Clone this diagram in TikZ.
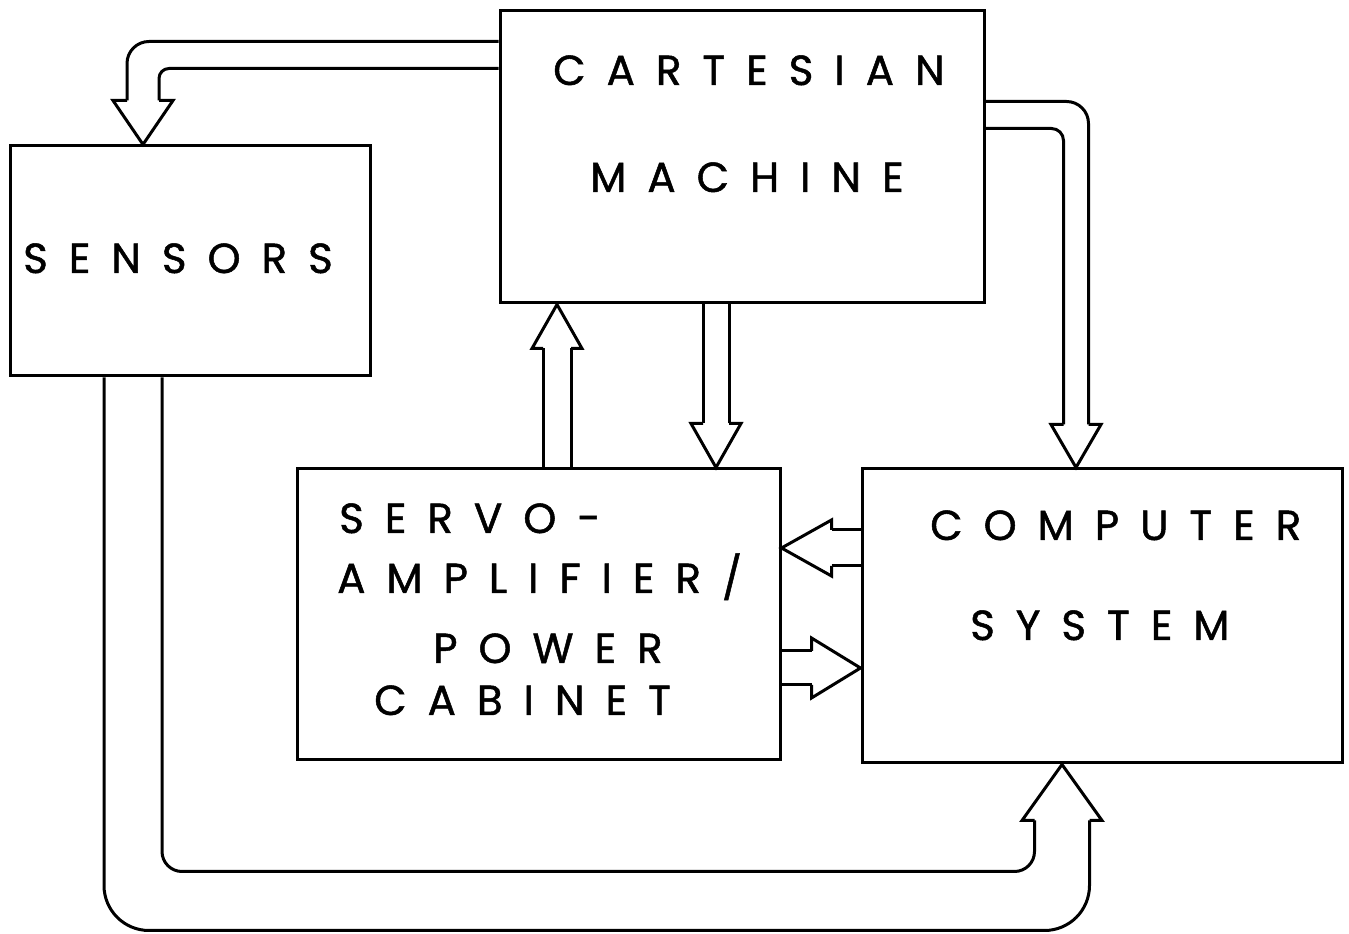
\documentclass[tikz,border=0pt]{standalone}
\usepackage{fontspec}
\setmainfont{Poppins}
\usetikzlibrary{calc}
\tikzset{
  box/.style={draw,line width=3pt,inner sep=0pt},
  pipe/.style={line width=3pt},
  lbl/.style={anchor=base west,inner sep=0pt,font=\fontsize{42}{48}\selectfont\addfontfeature{LetterSpace=50,FakeBold=1.2}},
}
% open arrow head: tip, angle, half shaft, half head, head length
\newcommand{\hollowhead}[5]{%
  \draw[pipe,shift={(#1)},rotate=#2] (-#3,-#5) -- (-#4,-#5) -- (0,0) -- (#4,-#5) -- (#3,-#5);}

\begin{document}
\begin{tikzpicture}[x=1pt,y=1pt]
  \useasboundingbox (0,0) rectangle (1349,934);
  % blocks
  \node[box,minimum width=484,minimum height=292] (cart) at (742,777) {};
  \node[box,minimum width=360,minimum height=230] (sens) at (190,673) {};
  \node[box,minimum width=483,minimum height=291] (servo) at (538.5,319.5) {};
  \node[box,minimum width=480,minimum height=294] (comp) at (1102,318) {};
  % labels
  \node[lbl] (cartA) at (553,849) {CARTESIAN};
  \node[lbl] (cartB) at (590,742) {MACHINE};
  \node[lbl] (sensA) at (23,661) {SENSORS};
  \node[lbl] (servoA) at (339,401) {SERVO-};
  \node[lbl] (servoB) at (337,341) {AMPLIFIER/};
  \node[lbl] (servoC) at (433,271) {POWER};
  \node[lbl] (servoD) at (374,219) {CABINET};
  \node[lbl] (compA) at (930,394) {COMPUTER};
  \node[lbl] (compB) at (970,294) {SYSTEM};
  % arrow tips
  \coordinate (tipA) at ($(sens.north)+(-47,0)$);
  \coordinate (tipB) at ($(comp.north)+(-26,0)$);
  \coordinate (tipC) at ($(cart.south)+(-185,0)$);
  \coordinate (tipD) at ($(servo.north)+(177.5,0)$);
  \coordinate (tipE) at ($(servo.east)+(0,66.5)$);
  \coordinate (tipF) at ($(comp.west)+(0,-52)$);
  \coordinate (tipG) at ($(comp.south)+(-40,0)$);
  % cartesian -> sensors
  \draw[pipe,rounded corners=22] ($(cart.north west)+(0,-32)$) -| ($(tipA)+(-16,44)$);
  \draw[pipe,rounded corners=10] ($(cart.north west)+(0,-59)$) -| ($(tipA)+(16,44)$);
  \hollowhead{tipA}{180}{16}{30}{44}
  % cartesian -> computer
  \draw[pipe,rounded corners=22] ($(cart.north east)+(0,-92)$) -| ($(tipB)+(12.5,43)$);
  \draw[pipe,rounded corners=12] ($(cart.north east)+(0,-119)$) -| ($(tipB)+(-12.5,43)$);
  \hollowhead{tipB}{180}{12.5}{25}{43}
  % servo -> cartesian
  \coordinate (c1) at ($(tipC)+(-14,-44)$);
  \coordinate (c2) at ($(tipC)+(14,-44)$);
  \draw[pipe] (c1) -- (c1 |- servo.north) (c2) -- (c2 |- servo.north);
  \hollowhead{tipC}{0}{14}{25}{44}
  % cartesian -> servo
  \coordinate (d1) at ($(tipD)+(-13,44)$);
  \coordinate (d2) at ($(tipD)+(13,44)$);
  \draw[pipe] (d1) -- (d1 |- cart.south) (d2) -- (d2 |- cart.south);
  \hollowhead{tipD}{180}{13}{25}{44}
  % computer -> servo
  \coordinate (e1) at ($(tipE)+(50,18)$);
  \coordinate (e2) at ($(tipE)+(50,-18)$);
  \draw[pipe] (e1) -- (e1 -| comp.west) (e2) -- (e2 -| comp.west);
  \hollowhead{tipE}{90}{18}{28}{50}
  % servo -> computer
  \coordinate (f1) at ($(tipF)+(-49,17)$);
  \coordinate (f2) at ($(tipF)+(-49,-17)$);
  \draw[pipe] (f1) -- (f1 -| servo.east) (f2) -- (f2 -| servo.east);
  \hollowhead{tipF}{-90}{17}{30}{49}
  % sensors -> computer
  \draw[pipe,rounded corners=45] ($(sens.south)+(-86,0)$) |- ($(tipG)+(27.5,-166)$) -- ($(tipG)+(27.5,-56)$);
  \draw[pipe,rounded corners=20] ($(sens.south)+(-28,0)$) |- ($(tipG)+(-27.5,-107)$) -- ($(tipG)+(-27.5,-56)$);
  \hollowhead{tipG}{0}{27.5}{40}{56}
\end{tikzpicture}
\end{document}
